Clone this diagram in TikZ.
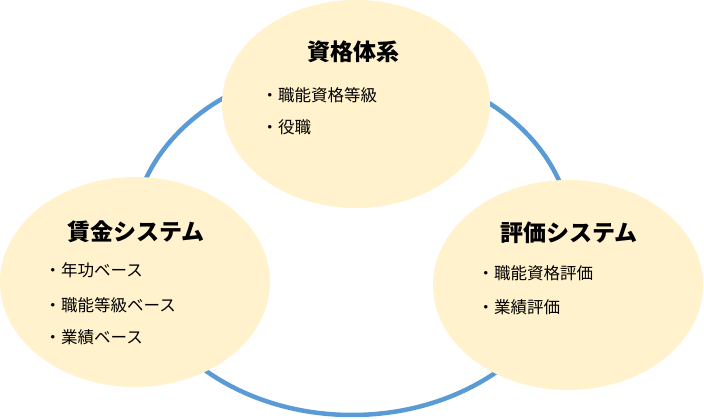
\documentclass[tikz,border=0pt]{standalone}
\usepackage{fontspec}
\setmainfont{Noto Sans CJK JP}
\usetikzlibrary{shapes.geometric}
\definecolor{ringblue}{HTML}{5B9BD5}
\definecolor{bubble}{HTML}{FFF2CC}

\begin{document}
\begin{tikzpicture}[x=1pt,y=-1pt,
    bubblenode/.style={ellipse, fill=bubble, inner sep=0pt, minimum width=270pt, minimum height=210pt},
    titletext/.style={font=\fontsize{23}{26}\selectfont\bfseries, inner sep=0pt},
    itemtext/.style={anchor=west, font=\fontsize{16.5}{20}\selectfont, inner sep=0pt}]
    \useasboundingbox (0,0) rectangle (704,419);

    % Ring behind the bubbles
    \draw[ringblue, line width=4.5pt] (352,240) ellipse [x radius=220pt, y radius=175pt];

    % Bubbles
    \node[bubblenode, minimum width=268pt, minimum height=208pt] (shikaku) at (356,104) {};
    \node[bubblenode] (chingin) at (135,282) {};
    \node[bubblenode] (hyoka) at (568,285) {};

    % Titles
    \node[titletext] (shikakuT) at (353,52) {資格体系};
    \node[titletext] (chinginT) at (136,232) {賃金システム};
    \node[titletext] (hyokaT) at (569,233) {評価システム};

    % Items
    \node[itemtext] (shikaku1) at (261.5,95) {・職能資格等級};
    \node[itemtext] (shikaku2) at (261.5,127) {・役職};

    \node[itemtext] (chingin1) at (44.5,270) {・年功ベース};
    \node[itemtext] (chingin2) at (44.5,305) {・職能等級ベース};
    \node[itemtext] (chingin3) at (44.5,337) {・業績ベース};

    \node[itemtext] (hyoka1) at (477.5,273) {・職能資格評価};
    \node[itemtext] (hyoka2) at (477.5,307) {・業績評価};
\end{tikzpicture}
\end{document}
